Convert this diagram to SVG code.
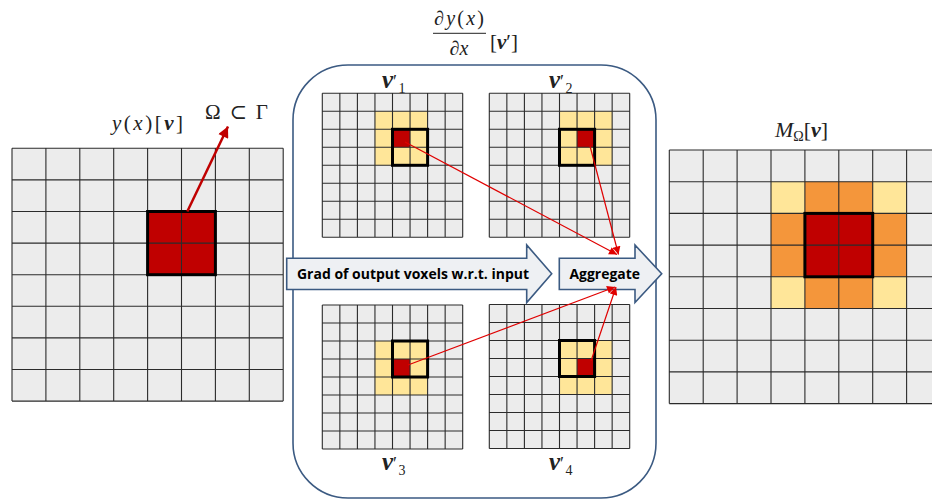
<svg xmlns="http://www.w3.org/2000/svg" width="932" height="499" viewBox="0 0 932 499">
<defs>
<style>
.bg{fill:#ececec}
.ln{fill:none;stroke:#2b2b2b;stroke-width:1.1}
.red{fill:#c00000}
.yel{fill:#ffe699}
.org{fill:#f4963b}
.thick{fill:none;stroke:#000;stroke-width:3}
.math{font-family:"Liberation Serif","DejaVu Serif",serif;font-style:italic;fill:#222}
.rm{font-style:normal}
.bi{font-weight:bold}
.blk{fill:#eef0f3;stroke:#3b5a82;stroke-width:1.6;stroke-linejoin:miter}
.lbl{font-family:"Open Sans","Liberation Sans",sans-serif;font-weight:bold;font-size:15px;fill:#000}
.con{stroke:#e00000;stroke-width:1.2;fill:none;marker-end:url(#ah)}
.box{fill:none;stroke:#3b5a82;stroke-width:1.6}
</style>
<marker id="ah" viewBox="0 0 10 10" refX="10" refY="5" markerUnits="userSpaceOnUse" markerWidth="9" markerHeight="8" orient="auto">
<path d="M0,0 L10,5 L0,10 z" fill="#e00000"/>
</marker>
<marker id="ahbig" viewBox="0 0 10 10" refX="10" refY="5" markerUnits="userSpaceOnUse" markerWidth="13" markerHeight="11" orient="auto">
<path d="M0,0 L10,5 L0,10 z" fill="#c00000"/>
</marker>
<g id="sgl">
<path class="ln" d="M0,0V144M17.55,0V144M35.1,0V144M52.65,0V144M70.2,0V144M87.75,0V144M105.3,0V144M122.85,0V144M140.4,0V144M0,0H140.4M0,18H140.4M0,36H140.4M0,54H140.4M0,72H140.4M0,90H140.4M0,108H140.4M0,126H140.4M0,144H140.4"/>
</g>
</defs>
<rect width="932" height="499" fill="#fff"/>

<g id="input-grid">
<rect class="bg" x="12" y="148.3" width="271.2" height="252.8"/>
<rect class="red" x="147.6" y="211.5" width="67.8" height="63.2"/>
<path class="ln" d="M12,148.3V401.1M45.9,148.3V401.1M79.8,148.3V401.1M113.7,148.3V401.1M147.6,148.3V401.1M181.5,148.3V401.1M215.4,148.3V401.1M249.3,148.3V401.1M283.2,148.3V401.1M12,148.3H283.2M12,179.9H283.2M12,211.5H283.2M12,243.1H283.2M12,274.7H283.2M12,306.3H283.2M12,337.9H283.2M12,369.5H283.2M12,401.1H283.2"/>
<rect class="thick" x="147.6" y="211.5" width="67.8" height="63.2"/>
<text class="math" x="112" y="130" font-size="21" textLength="71" lengthAdjust="spacing">y<tspan class="rm">(</tspan>x<tspan class="rm">)[</tspan><tspan class="bi">v</tspan><tspan class="rm">]</tspan></text>
<text class="math rm" x="205" y="119" font-size="21" textLength="63" lengthAdjust="spacing">Ω ⊂ Γ</text>
<line x1="187.3" y1="211.5" x2="228" y2="126.5" stroke="#c00000" stroke-width="2.5" marker-end="url(#ahbig)"/>
</g>

<g id="grad-box">
<rect class="box" x="293" y="65" width="363" height="433" rx="55" ry="55"/>
<text class="math" x="459" y="25" font-size="20" text-anchor="middle" textLength="50" lengthAdjust="spacing"><tspan class="rm">∂</tspan>y<tspan class="rm">(</tspan>x<tspan class="rm">)</tspan></text>
<line x1="433" y1="33.3" x2="486" y2="33.3" stroke="#222" stroke-width="1"/>
<text class="math" x="459" y="55" font-size="20" text-anchor="middle"><tspan class="rm">∂</tspan>x</text>
<text class="math" x="490" y="49" font-size="21"><tspan class="rm">[</tspan><tspan class="bi">v</tspan><tspan class="rm">′]</tspan></text>
</g>

<g id="v1" transform="translate(322.3,93.3)">
<rect class="bg" width="140.4" height="144"/>
<rect class="yel" x="52.65" y="18" width="52.65" height="54"/>
<rect class="red" x="70.2" y="36" width="17.55" height="18"/>
<use href="#sgl"/>
<rect class="thick" x="70.2" y="36" width="35.1" height="36"/>
</g>
<text class="math" x="382" y="88" font-size="25"><tspan class="bi">v</tspan><tspan class="rm" font-size="18">′</tspan><tspan class="rm" x="398.5" y="93" font-size="14">1</tspan></text>

<g id="v2" transform="translate(489.3,93.3)">
<rect class="bg" width="140.4" height="144"/>
<rect class="yel" x="70.2" y="18" width="52.65" height="54"/>
<rect class="red" x="87.75" y="36" width="17.55" height="18"/>
<use href="#sgl"/>
<rect class="thick" x="70.2" y="36" width="35.1" height="36"/>
</g>
<text class="math" x="549" y="88" font-size="25"><tspan class="bi">v</tspan><tspan class="rm" font-size="18">′</tspan><tspan class="rm" x="565.5" y="93" font-size="14">2</tspan></text>

<g id="v3" transform="translate(322.3,305)">
<rect class="bg" width="140.4" height="144"/>
<rect class="yel" x="52.65" y="36" width="52.65" height="54"/>
<rect class="red" x="70.2" y="54" width="17.55" height="18"/>
<use href="#sgl"/>
<rect class="thick" x="70.2" y="36" width="35.1" height="36"/>
</g>
<text class="math" x="382" y="470" font-size="25"><tspan class="bi">v</tspan><tspan class="rm" font-size="18">′</tspan><tspan class="rm" x="398.5" y="475" font-size="14">3</tspan></text>

<g id="v4" transform="translate(489.3,304.5)">
<rect class="bg" width="140.4" height="144"/>
<rect class="yel" x="70.2" y="36" width="52.65" height="54"/>
<rect class="red" x="87.75" y="54" width="17.55" height="18"/>
<use href="#sgl"/>
<rect class="thick" x="70.2" y="36" width="35.1" height="36"/>
</g>
<text class="math" x="549" y="470" font-size="25"><tspan class="bi">v</tspan><tspan class="rm" font-size="18">′</tspan><tspan class="rm" x="565.5" y="475" font-size="14">4</tspan></text>

<g id="grad-arrow">
<polygon class="blk" points="286.7,258.3 526.7,258.3 526.7,245 551.7,273.8 526.7,302.5 526.7,289.5 286.7,289.5"/>
<text class="lbl" x="297" y="279" textLength="232" lengthAdjust="spacingAndGlyphs">Grad of output voxels w.r.t. input</text>
</g>

<g id="aggregate-arrow">
<polygon class="blk" points="559.3,258.3 635,258.3 635,245 661.7,273.8 635,302.5 635,289.5 559.3,289.5"/>
<text class="lbl" x="569.5" y="279" textLength="70.5" lengthAdjust="spacingAndGlyphs">Aggregate</text>
</g>

<g id="mask-grid">
<rect class="bg" x="669.3" y="150" width="271.2" height="253.6"/>
<rect class="yel" x="771" y="181.7" width="33.9" height="31.7"/>
<rect class="yel" x="872.7" y="181.7" width="33.9" height="31.7"/>
<rect class="yel" x="771" y="276.8" width="33.9" height="31.7"/>
<rect class="yel" x="872.7" y="276.8" width="33.9" height="31.7"/>
<rect class="org" x="804.9" y="181.7" width="67.8" height="31.7"/>
<rect class="org" x="804.9" y="276.8" width="67.8" height="31.7"/>
<rect class="org" x="771" y="213.4" width="33.9" height="63.4"/>
<rect class="org" x="872.7" y="213.4" width="33.9" height="63.4"/>
<rect class="red" x="804.9" y="213.4" width="67.8" height="63.4"/>
<path class="ln" d="M669.3,150V403.6M703.2,150V403.6M737.1,150V403.6M771,150V403.6M804.9,150V403.6M838.8,150V403.6M872.7,150V403.6M906.6,150V403.6M669.3,150H940M669.3,181.7H940M669.3,213.4H940M669.3,245.1H940M669.3,276.8H940M669.3,308.5H940M669.3,340.2H940M669.3,371.9H940M669.3,403.6H940"/>
<rect class="thick" x="804.9" y="213.4" width="67.8" height="63.4"/>
<text class="math" x="775" y="137" font-size="22">M<tspan class="rm" font-size="14" dy="4">Ω</tspan><tspan class="rm" dy="-4">[</tspan><tspan class="bi">v</tspan><tspan class="rm">]</tspan></text>
</g>

<g id="connectors">
<line class="con" x1="405" y1="142" x2="617" y2="254.5"/>
<line class="con" x1="590" y1="146" x2="618.5" y2="254.5"/>
<line class="con" x1="408" y1="365" x2="615" y2="287"/>
<line class="con" x1="591" y1="361" x2="616" y2="287"/>
</g>
</svg>
